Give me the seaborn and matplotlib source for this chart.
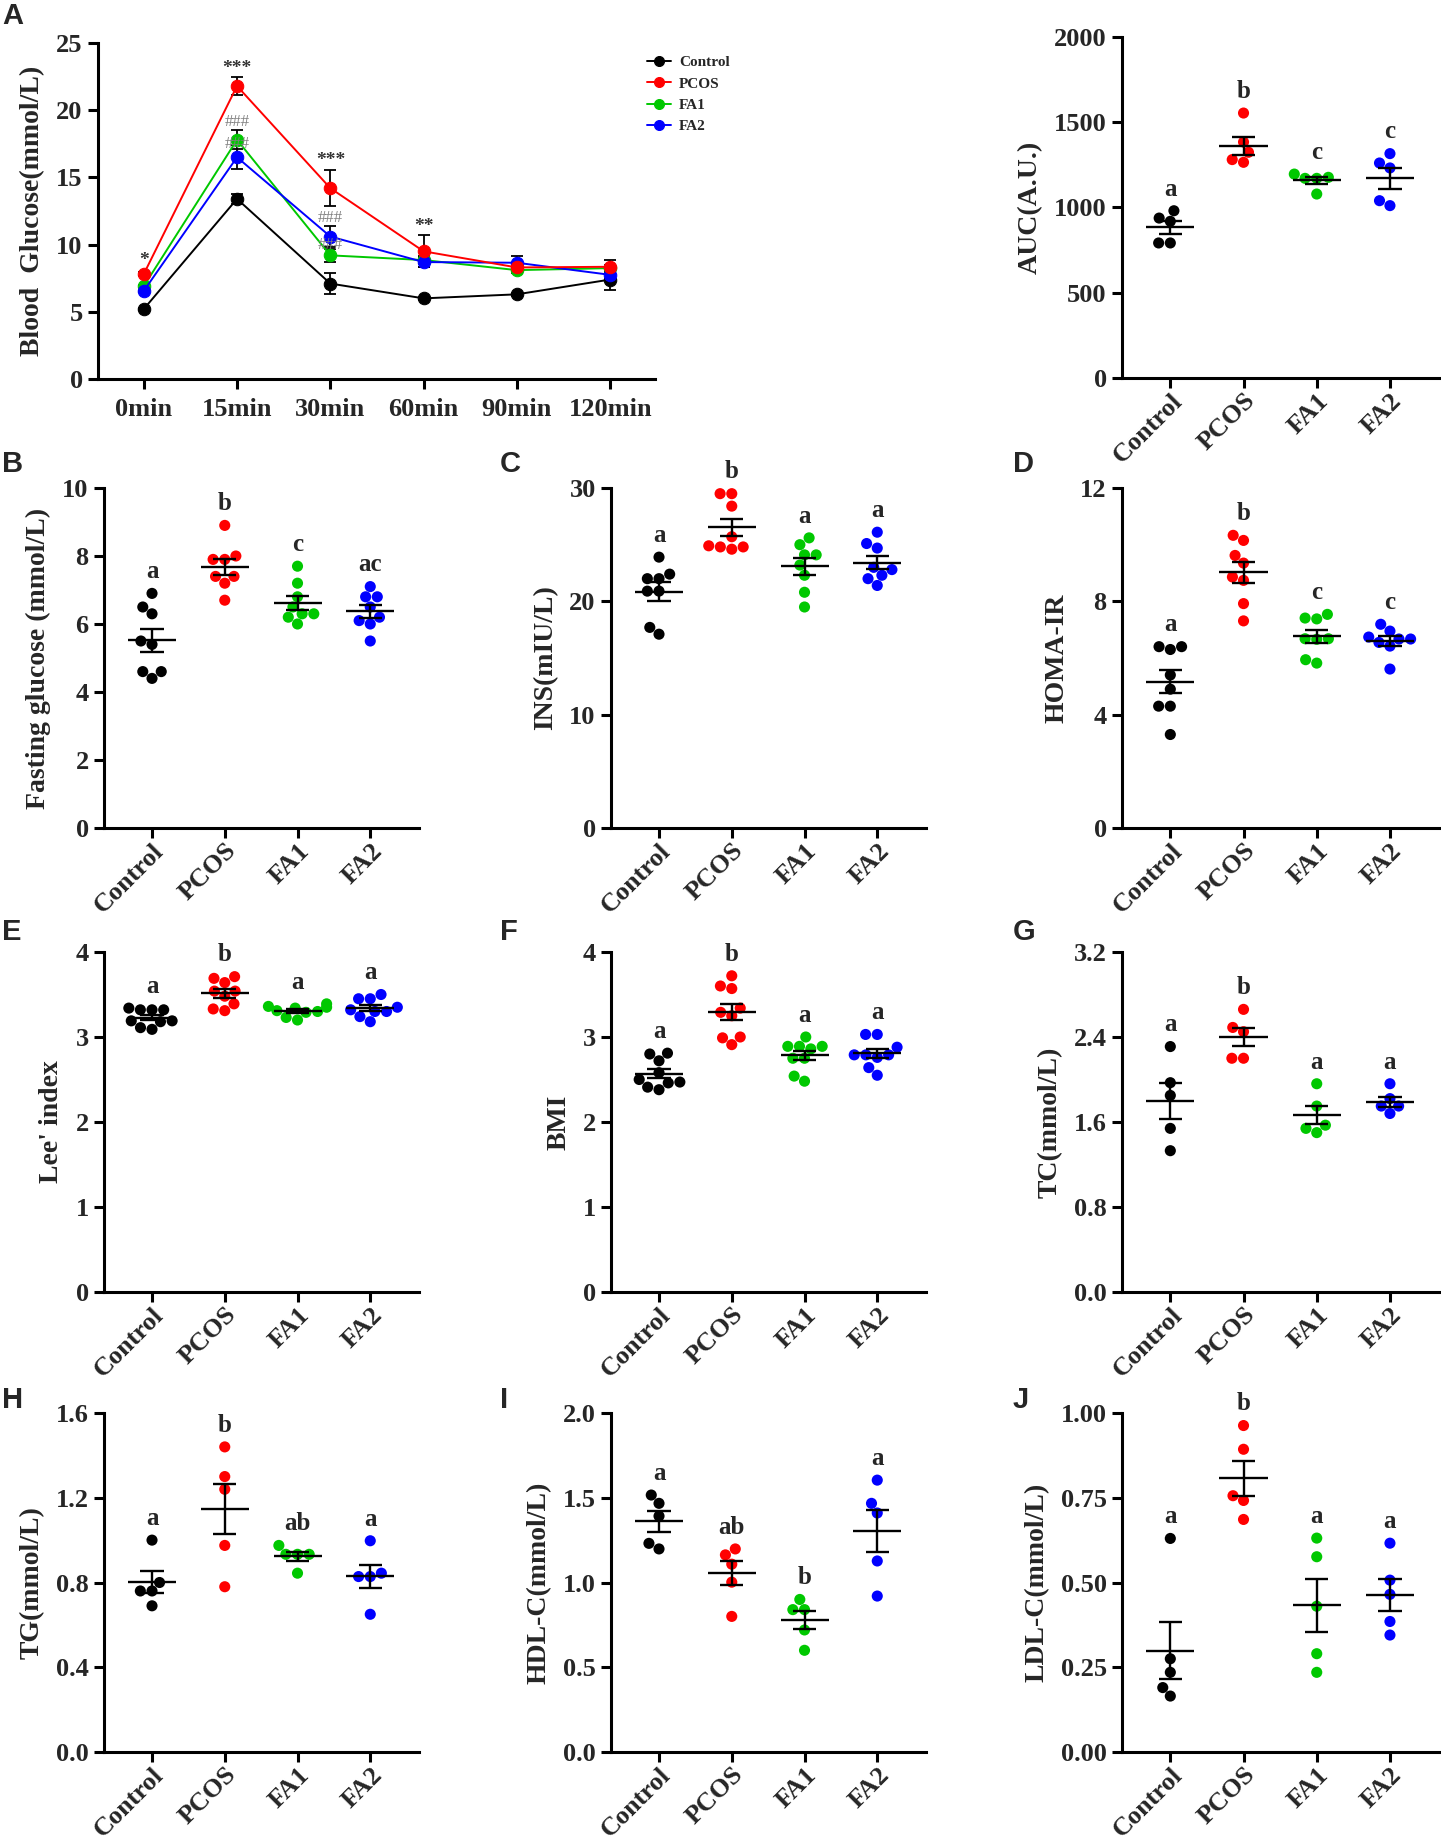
import matplotlib
matplotlib.use("Agg")
import matplotlib.pyplot as plt
import seaborn as sns
import numpy as np
import pandas as pd

sns.set_theme(style="ticks")
plt.rcParams['font.family'] = ['Liberation Serif', 'DejaVu Serif']
plt.rcParams['font.weight'] = 'bold'
plt.rcParams['axes.labelweight'] = 'bold'

GROUPS = ["Control", "PCOS", "FA1", "FA2"]
COLORS = ["#000000", "#FF0000", "#00C800", "#0000FF"]
PALETTE = dict(zip(GROUPS, COLORS))

# ---- A: OGTT time course (mean, SEM) ----
time_labels = ["0min", "15min", "30min", "60min", "90min", "120min"]
ogtt_mean = {
    "Control": [5.2, 13.4, 7.1, 6.0, 6.3, 7.4],
    "PCOS":    [7.8, 21.8, 14.2, 9.5, 8.3, 8.35],
    "FA1":     [6.9, 17.8, 9.2, 8.85, 8.1, 8.25],
    "FA2":     [6.55, 16.5, 10.6, 8.7, 8.65, 7.75],
}
ogtt_sem = {
    "Control": [0.1, 0.4, 0.75, 0.1, 0.1, 0.8],
    "PCOS":    [0.15, 0.65, 1.35, 1.2, 0.3, 0.5],
    "FA1":     [0.1, 0.7, 0.5, 0.3, 0.2, 0.2],
    "FA2":     [0.1, 0.9, 0.8, 0.4, 0.5, 0.3],
}
# significance marks: (time index, y, text, colour)
ogtt_marks = [(0, 8.2, "*", "#333333"), (1, 22.5, "***", "#333333"),
              (1, 18.5, "###", "#808080"), (1, 16.9, "###", "#808080"),
              (2, 15.6, "***", "#333333"), (2, 11.4, "###", "#808080"),
              (2, 9.4, "###", "#808080"), (3, 10.7, "**", "#333333")]

# ---- scatter panels: individual values ----
auc = {"Control": [981, 919, 938, 792, 792],
       "PCOS": [1554, 1384, 1324, 1265, 1281],
       "FA1": [1196, 1171, 1177, 1171, 1079],
       "FA2": [1316, 1232, 1261, 1011, 1040]}
fasting_glucose = {"Control": [6.9, 6.5, 6.3, 5.5, 5.4, 4.4, 4.6, 4.6],
                   "PCOS": [8.9, 8.0, 7.9, 7.9, 7.4, 7.4, 7.2, 6.7],
                   "FA1": [7.7, 7.2, 6.8, 6.5, 6.3, 6.3, 6.2, 6.0],
                   "FA2": [7.1, 6.8, 6.8, 6.5, 6.2, 6.1, 6.0, 5.5]}
ins = {"Control": [23.9, 22.4, 22.0, 22.0, 20.9, 20.9, 17.7, 17.1],
       "PCOS": [29.5, 29.5, 28.4, 25.7, 24.6, 24.9, 24.8, 24.8],
       "FA1": [25.6, 25.0, 24.1, 24.1, 23.2, 22.3, 20.8, 19.5],
       "FA2": [26.1, 25.1, 24.7, 23.0, 22.8, 22.3, 22.0, 21.4]}
homa_ir = {"Control": [6.4, 6.3, 6.4, 5.4, 4.9, 4.3, 4.3, 3.3],
           "PCOS": [10.15, 10.33, 9.62, 9.35, 8.74, 8.86, 7.92, 7.31],
           "FA1": [7.54, 7.38, 7.41, 6.68, 6.68, 6.66, 5.82, 5.94],
           "FA2": [7.19, 6.95, 6.67, 6.74, 6.67, 6.55, 6.42, 5.61]}
lee_index = {"Control": [3.34, 3.32, 3.32, 3.32, 3.19, 3.18, 3.19, 3.11, 3.09],
             "PCOS": [3.69, 3.71, 3.64, 3.54, 3.54, 3.48, 3.31, 3.39, 3.33],
             "FA1": [3.29, 3.34, 3.30, 3.36, 3.39, 3.35, 3.31, 3.20, 3.23],
             "FA2": [3.50, 3.45, 3.45, 3.24, 3.32, 3.30, 3.30, 3.35, 3.18]}
bmi = {"Control": [2.80, 2.81, 2.72, 2.58, 2.50, 2.41, 2.46, 2.47, 2.38],
       "PCOS": [3.72, 3.60, 3.57, 3.29, 3.34, 3.25, 2.91, 3.00, 2.99],
       "FA1": [3.00, 2.86, 2.89, 2.89, 2.89, 2.75, 2.75, 2.48, 2.54],
       "FA2": [3.03, 3.03, 2.88, 2.79, 2.76, 2.79, 2.79, 2.64, 2.55]}
tc = {"Control": [2.31, 1.97, 1.85, 1.54, 1.33],
      "PCOS": [2.66, 2.45, 2.49, 2.20, 2.20],
      "FA1": [1.96, 1.75, 1.57, 1.50, 1.54],
      "FA2": [1.96, 1.82, 1.75, 1.75, 1.68]}
tg = {"Control": [1.00, 0.80, 0.76, 0.76, 0.69],
      "PCOS": [1.44, 1.30, 1.24, 0.975, 0.78],
      "FA1": [0.975, 0.933, 0.933, 0.933, 0.844],
      "FA2": [0.997, 0.844, 0.828, 0.828, 0.65]}
hdl = {"Control": [1.516, 1.467, 1.392, 1.198, 1.231],
       "PCOS": [1.198, 1.163, 1.108, 1.002, 0.80],
       "FA1": [0.90, 0.84, 0.84, 0.72, 0.60],
       "FA2": [1.604, 1.467, 1.41, 1.127, 0.92]}
ldl = {"Control": [0.63, 0.275, 0.235, 0.19, 0.165],
       "PCOS": [0.963, 0.893, 0.756, 0.742, 0.686],
       "FA1": [0.631, 0.576, 0.43, 0.29, 0.235],
       "FA2": [0.616, 0.507, 0.465, 0.385, 0.345]}

W, H = 1441, 1844
fig = plt.figure(figsize=(W / 100, H / 100), dpi=100)


def add_ax(left, top, bottom, width):
    return fig.add_axes([left / W, 1 - bottom / H, width / W, (bottom - top) / H])


def style_axes(ax, ymax, step, fmt):
    ax.set_ylim(0, ymax)
    ticks = np.arange(0, ymax + step / 2, step)
    ax.set_yticks(ticks)
    ax.set_yticklabels([fmt.format(t) for t in ticks])
    sns.despine(ax=ax)
    for s in ["left", "bottom"]:
        ax.spines[s].set_linewidth(2.2)
        ax.spines[s].set_color("black")
    ax.tick_params(width=2.2, length=7.5, labelsize=19, color="black", direction="out")
    ax.tick_params(axis="x", pad=0.5)
    for lab in ax.get_yticklabels() + ax.get_xticklabels():
        lab.set_fontweight("bold")


def scatter_panel(ax, values, ylabel, ymax, step, fmt, letters):
    rows = [(g, v) for g in GROUPS for v in values[g]]
    df = pd.DataFrame(rows, columns=["group", "value"])
    sns.swarmplot(data=df, x="group", y="value", hue="group", order=GROUPS,
                  hue_order=GROUPS, palette=PALETTE, size=8, legend=False,
                  ax=ax, zorder=3, linewidth=0)
    for i, g in enumerate(GROUPS):
        v = np.array(values[g], dtype=float)
        m = v.mean()
        se = v.std(ddof=1) / np.sqrt(len(v))
        ax.hlines(m, i - 0.33, i + 0.33, color="black", lw=1.7, zorder=4)
        ax.hlines([m - se, m + se], i - 0.16, i + 0.16, color="black", lw=1.7, zorder=4)
        ax.vlines(i, m - se, m + se, color="black", lw=1.7, zorder=4)
        top = max(v.max(), m + se)
        ax.text(i, top + 0.03 * ymax, letters[i], ha="center", va="bottom",
                fontsize=18, fontweight="bold")
    ax.set_xlim(-0.66, 3.67)
    style_axes(ax, ymax, step, fmt)
    ax.set_xlabel("")
    ax.set_ylabel(ylabel, fontsize=20, fontweight="bold", labelpad=8)
    ax.set_xticks(range(4))
    ax.set_xticklabels(GROUPS, rotation=45, ha="right", va="top",
                       rotation_mode="anchor", fontsize=19, fontweight="bold")


# ---- panel A ----
axA = add_ax(98, 43, 379, 557)
for g, c in zip(["Control", "FA1", "FA2", "PCOS"], ["#000000", "#00C800", "#0000FF", "#FF0000"]):
    x = np.arange(len(time_labels))
    axA.errorbar(x, ogtt_mean[g], yerr=ogtt_sem[g], fmt="none", ecolor="black",
                 elinewidth=1.3, capsize=4, capthick=1.3, zorder=2)
    sns.lineplot(x=x, y=ogtt_mean[g], color=c, marker="o", markersize=9,
                 markeredgecolor=c, linewidth=1.4, label=g, ax=axA, zorder=3)
for xi, yi, txt, col in ogtt_marks:
    axA.text(xi, yi, txt, ha="center", va="bottom", fontsize=14 if "*" in txt else 12,
             color=col, fontweight="bold" if "*" in txt else "normal")
axA.set_xlim(-0.49, 5.48)
style_axes(axA, 25, 5, "{:.0f}")
axA.tick_params(axis="x", pad=6)
axA.set_xticks(range(len(time_labels)))
axA.set_xticklabels(time_labels, fontsize=19, fontweight="bold")
axA.set_ylabel("Blood  Glucose(mmol/L)", fontsize=20, fontweight="bold", labelpad=8)
handles, labels = axA.get_legend_handles_labels()
order = [labels.index(g) for g in GROUPS]
axA.legend([handles[i] for i in order], GROUPS, loc="upper left",
           bbox_to_anchor=(633 / W, 1 - 42 / H), bbox_transform=fig.transFigure,
           frameon=False, prop={"weight": "bold", "size": 11},
           handlelength=1.6, labelspacing=0.5, handletextpad=0.5, markerscale=0.8)

# ---- AUC ----
axAUC = add_ax(1122, 37, 378, 317)
scatter_panel(axAUC, auc, "AUC(A.U.)", 2000, 500, "{:.0f}", ["a", "b", "c", "c"])

# ---- rows of scatter panels ----
col_left = [104, 611, 1122]
row2 = (488, 828)
row3 = (952, 1292)
row4 = (1413, 1752)

scatter_panel(add_ax(col_left[0], *row2, 315), fasting_glucose, "Fasting glucose (mmol/L)",
              10, 2, "{:.0f}", ["a", "b", "c", "ac"])
scatter_panel(add_ax(col_left[1], *row2, 315), ins, "INS(mIU/L)",
              30, 10, "{:.0f}", ["a", "b", "a", "a"])
scatter_panel(add_ax(col_left[2], *row2, 317), homa_ir, "HOMA-IR",
              12, 4, "{:.0f}", ["a", "b", "c", "c"])

scatter_panel(add_ax(col_left[0], *row3, 315), lee_index, "Lee' index",
              4, 1, "{:.0f}", ["a", "b", "a", "a"])
scatter_panel(add_ax(col_left[1], *row3, 315), bmi, "BMI",
              4, 1, "{:.0f}", ["a", "b", "a", "a"])
scatter_panel(add_ax(col_left[2], *row3, 317), tc, "TC(mmol/L)",
              3.2, 0.8, "{:.1f}", ["a", "b", "a", "a"])

scatter_panel(add_ax(col_left[0], *row4, 315), tg, "TG(mmol/L)",
              1.6, 0.4, "{:.1f}", ["a", "b", "ab", "a"])
scatter_panel(add_ax(col_left[1], *row4, 315), hdl, "HDL-C(mmol/L)",
              2.0, 0.5, "{:.1f}", ["a", "ab", "b", "a"])
scatter_panel(add_ax(col_left[2], *row4, 317), ldl, "LDL-C(mmol/L)",
              1.0, 0.25, "{:.2f}", ["a", "b", "a", "a"])

# panel letters
letters = [("A", 2, 16), ("B", 2, 464), ("C", 500, 464), ("D", 1013, 464),
           ("E", 2, 932), ("F", 500, 932), ("G", 1013, 932),
           ("H", 2, 1400), ("I", 500, 1400), ("J", 1013, 1400)]
for t, x, y in letters:
    fig.text(x / W, 1 - y / H, t, ha="left", va="center", fontsize=21,
             fontweight="bold", family=["Liberation Sans", "DejaVu Sans"])

fig.savefig("out.png", dpi=100, facecolor="white")
